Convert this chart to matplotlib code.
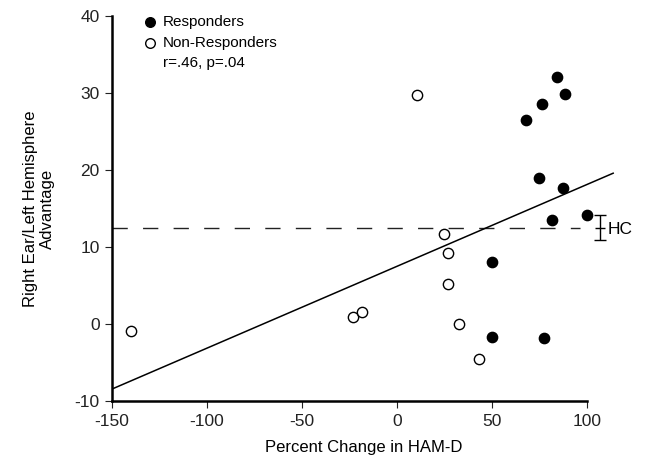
import matplotlib
matplotlib.use("Agg")
import matplotlib.pyplot as plt
import numpy as np

plt.rcParams['font.family'] = ['Liberation Sans', 'DejaVu Sans']
plt.rcParams['axes.unicode_minus'] = False

# Data
resp_x = [84.0, 88.1, 76.1, 67.7, 74.9, 87.2, 81.6, 99.8, 50.0, 50.0, 77.5]
resp_y = [32.1, 29.9, 28.6, 26.5, 19.0, 17.7, 13.5, 14.1, 8.0, -1.7, -1.8]
non_x = [10.7, 24.7, 26.8, 26.8, 32.8, 43.3, -23.0, -18.2, -140.0]
non_y = [29.8, 11.7, 9.2, 5.2, 0.0, -4.5, 0.9, 1.6, -0.9]
fit_x = [-150, 113.7]
fit_slope = 0.1063
fit_intercept = 7.5
hc_mean = 12.5
hc_low, hc_high = 10.9, 14.2
hc_x = 106.8
x_ticks = [-150, -100, -50, 0, 50, 100]
y_ticks = [-10, 0, 10, 20, 30, 40]

fig = plt.figure(figsize=(6.49, 4.67), dpi=100)
ax = fig.add_axes([0.1726, 0.1413, 0.776, 0.8244])

fx = np.array(fit_x)
ax.plot(fx, fit_slope * fx + fit_intercept, color='black', lw=1.1, zorder=2)
ax.plot([-150, 96], [hc_mean, hc_mean], color='#222222', lw=1.0, dashes=(11, 11), zorder=1)
ax.errorbar([hc_x], [hc_mean], yerr=[[hc_mean - hc_low], [hc_high - hc_mean]],
            fmt='_', color='black', ecolor='black', capsize=4.5, lw=1.0, markersize=7,
            clip_on=False)
ax.text(hc_x + 4, hc_mean - 0.2, 'HC', fontsize=12.5, va='center', ha='left')

ax.scatter(resp_x, resp_y, s=55, facecolor='black', edgecolor='black', lw=1, zorder=3)
ax.scatter(non_x, non_y, s=55, facecolor='white', edgecolor='black', lw=1, zorder=3)

# legend (manual)
ax.scatter([0.0755], [0.984], s=48, facecolor='black', edgecolor='black', lw=1,
           transform=ax.transAxes, clip_on=False)
ax.scatter([0.0755], [0.930], s=48, facecolor='white', edgecolor='black', lw=1,
           transform=ax.transAxes, clip_on=False)
ax.text(0.101, 0.984, 'Responders', transform=ax.transAxes, fontsize=11, va='center')
ax.text(0.101, 0.930, 'Non-Responders', transform=ax.transAxes, fontsize=11, va='center')
ax.text(0.101, 0.878, 'r=.46, p=.04', transform=ax.transAxes, fontsize=11, va='center')

ax.set_xlim(-150, 115)
ax.set_ylim(-10, 40)
ax.set_xticks(x_ticks)
ax.set_yticks(y_ticks)
ax.spines['top'].set_visible(False)
ax.spines['right'].set_visible(False)
ax.spines['left'].set_linewidth(1.8)
ax.spines['bottom'].set_linewidth(1.8)
ax.spines['bottom'].set_bounds(-150, 100)
ax.tick_params(direction='out', length=5, width=0.8, labelsize=12.5, pad=4,
               colors='#222222')
ax.set_xlabel('Percent Change in HAM-D', fontsize=12, labelpad=8)
ax.set_ylabel('Right Ear/Left Hemisphere\nAdvantage', fontsize=12, labelpad=14)

fig.savefig('out.png', dpi=100)
